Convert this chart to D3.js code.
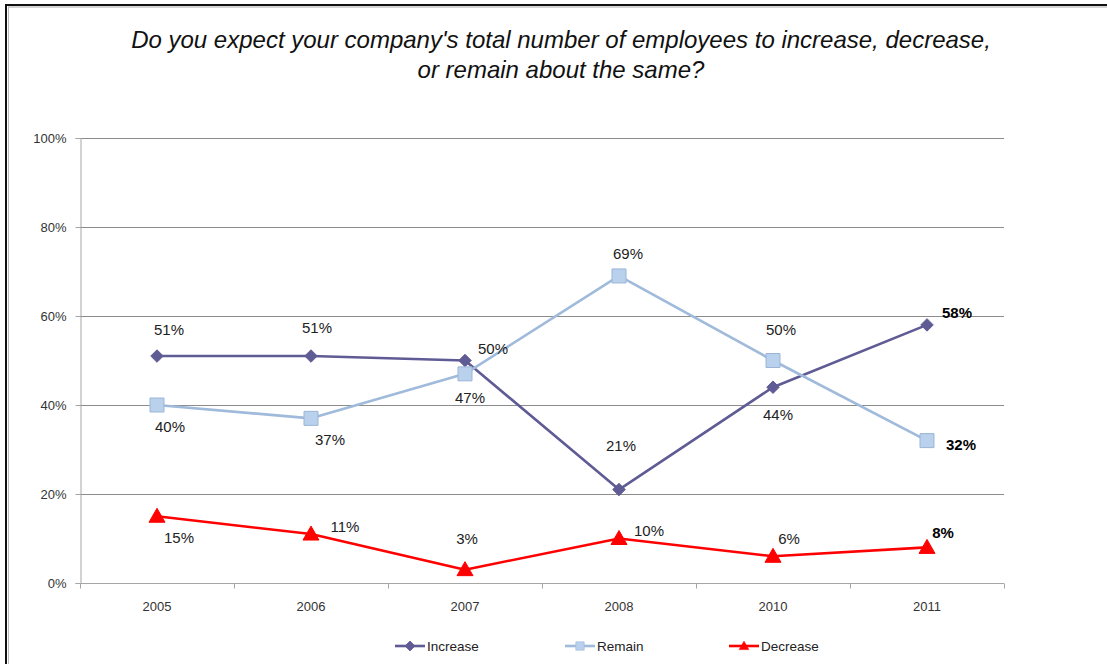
<!DOCTYPE html>
<html>
<head>
<meta charset="utf-8">
<script src="https://cdn.jsdelivr.net/npm/d3@7"></script>
<style>
  html, body { margin: 0; padding: 0; background: #fff; }
  svg { display: block; font-family: "Liberation Sans", Arial, sans-serif; }
</style>
</head>
<body>
<svg id="chart" width="1107" height="664"></svg>
<script>
// Survey years and the share of answers for each option
const years = ["2005", "2006", "2007", "2008", "2010", "2011"];
const increaseValues = [51, 51, 50, 21, 44, 58];
const remainValues = [40, 37, 47, 69, 50, 32];
const decreaseValues = [15, 11, 3, 10, 6, 8];
const yTicks = [0, 20, 40, 60, 80, 100];

const titleLines = [
  "Do you expect your company's total number of employees to increase, decrease,",
  "or remain about the same?"
];

// Label placement relative to each point (dx, dy in px), and which labels are bold
const increaseLabelOffsets = [[12, -26], [6, -28], [28, -12], [2, -44], [5, 28], [30, -12]];
const remainLabelOffsets = [[13, 22], [19, 22], [5, 24], [9, -22], [8, -31], [34, 4]];
const decreaseLabelOffsets = [[22, 22], [34, -7], [2, -31], [30, -8], [16, -17], [16, -14]];

const series = [
  { name: "Increase", values: increaseValues, offsets: increaseLabelOffsets,
    line: "#5f5b94", fill: "#5f5b94", stroke: "#5f5b94", marker: "diamond" },
  { name: "Remain", values: remainValues, offsets: remainLabelOffsets,
    line: "#9fbadb", fill: "#b9d1ec", stroke: "#9ab5d6", marker: "square" },
  { name: "Decrease", values: decreaseValues, offsets: decreaseLabelOffsets,
    line: "#ff0000", fill: "#ff0000", stroke: "#ff0000", marker: "triangle" }
];

const svg = d3.select("#chart");
const W = 1107, H = 664;
const plot = { left: 80, right: 1004, top: 138, bottom: 583 };

// Frame around the figure
svg.append("rect").attr("x", 0).attr("y", 0).attr("width", W).attr("height", H).attr("fill", "#fff");
svg.append("line").attr("x1", 6).attr("x2", W).attr("y1", 5).attr("y2", 5)
  .attr("stroke", "#111").attr("stroke-width", 2);
svg.append("line").attr("x1", 8).attr("x2", W).attr("y1", 7).attr("y2", 7)
  .attr("stroke", "#aaa").attr("stroke-width", 1);
svg.append("line").attr("x1", 6).attr("x2", 6).attr("y1", 4).attr("y2", H)
  .attr("stroke", "#111").attr("stroke-width", 2);
svg.append("line").attr("x1", 8.5).attr("x2", 8.5).attr("y1", 7).attr("y2", H)
  .attr("stroke", "#bbb").attr("stroke-width", 1);

// Title
svg.append("g").selectAll("text").data(titleLines).join("text")
  .attr("x", 561).attr("y", (d, i) => 48 + i * 30)
  .attr("text-anchor", "middle")
  .attr("font-size", 24).attr("font-style", "italic")
  .attr("fill", "#111")
  .text(d => d);

// Scales
const x = d3.scaleBand().domain(years).range([plot.left, plot.right]);
const y = d3.scaleLinear().domain([0, 100]).range([plot.bottom, plot.top]);
const cx = d => x(d) + x.bandwidth() / 2;

// Horizontal gridlines
svg.append("g").selectAll("line").data(yTicks.filter(t => t > 0)).join("line")
  .attr("x1", plot.left).attr("x2", plot.right)
  .attr("y1", d => Math.round(y(d)) + 0.5).attr("y2", d => Math.round(y(d)) + 0.5)
  .attr("stroke", "#8c8c8c").attr("stroke-width", 1);

// Y axis
const yAxis = svg.append("g")
  .attr("transform", `translate(${plot.left + 0.5},0)`)
  .call(d3.axisLeft(y).tickValues(yTicks).tickFormat(d => d + "%").tickSize(5).tickPadding(9));
yAxis.select(".domain").attr("stroke", "#a6a6a6");
yAxis.selectAll(".tick line").attr("stroke", "#a6a6a6");
yAxis.selectAll("text").attr("font-size", 13).attr("fill", "#333")
  .attr("font-family", "'Liberation Sans', Arial, sans-serif");

// X axis with ticks at category boundaries
const xAxisG = svg.append("g").attr("transform", `translate(0,${plot.bottom + 0.5})`);
xAxisG.append("line").attr("x1", plot.left).attr("x2", plot.right)
  .attr("stroke", "#a6a6a6");
const boundaries = years.map(d => x(d)).concat([x(years[years.length - 1]) + x.bandwidth()]);
xAxisG.selectAll("line.tk").data(boundaries).join("line").attr("class", "tk")
  .attr("x1", d => Math.round(d) + 0.5).attr("x2", d => Math.round(d) + 0.5)
  .attr("y1", 0).attr("y2", 5).attr("stroke", "#a6a6a6");
xAxisG.selectAll("text").data(years).join("text")
  .attr("x", d => cx(d)).attr("y", 27)
  .attr("text-anchor", "middle").attr("font-size", 13).attr("fill", "#333")
  .text(d => d);

// Marker shapes
function markerPath(type) {
  if (type === "diamond") return d3.symbol().type(d3.symbolDiamond2).size(100)();
  if (type === "square") return "M-7,-7H7V7H-7Z";
  return "M0,-8L8,6H-8Z";
}

const line = d3.line().x((d, i) => cx(years[i])).y(d => y(d));

series.forEach(s => {
  const g = svg.append("g");
  g.append("path").datum(s.values)
    .attr("d", line).attr("fill", "none")
    .attr("stroke", s.line).attr("stroke-width", 2.6).attr("stroke-linejoin", "round");
  g.selectAll("path.mk").data(s.values).join("path").attr("class", "mk")
    .attr("transform", (d, i) => `translate(${cx(years[i])},${y(d)})`)
    .attr("d", markerPath(s.marker))
    .attr("fill", s.fill).attr("stroke", s.stroke).attr("stroke-width", 1);
});

// Value labels
series.forEach(s => {
  svg.append("g").selectAll("text").data(s.values).join("text")
    .attr("x", (d, i) => cx(years[i]) + s.offsets[i][0])
    .attr("y", (d, i) => y(d) + s.offsets[i][1] + 5)
    .attr("text-anchor", "middle")
    .attr("font-size", 15)
    .attr("font-weight", (d, i) => i === years.length - 1 ? "bold" : "normal")
    .attr("fill", (d, i) => i === years.length - 1 ? "#000" : "#222")
    .text(d => d + "%");
});

// Legend
const legendX = [395, 565, 729];
const legendY = 646;
series.forEach((s, i) => {
  const g = svg.append("g").attr("transform", `translate(${legendX[i]},${legendY})`);
  g.append("line").attr("x1", 0).attr("x2", 30).attr("y1", 0).attr("y2", 0)
    .attr("stroke", s.line).attr("stroke-width", 2.6);
  const scale = s.marker === "diamond" ? 0.8 : 0.6;
  g.append("path").attr("transform", `translate(15,0) scale(${scale})`)
    .attr("d", markerPath(s.marker))
    .attr("fill", s.fill).attr("stroke", s.stroke).attr("stroke-width", 1);
  g.append("text").attr("x", 32).attr("y", 5)
    .attr("font-size", 13.5).attr("fill", "#222").text(s.name);
});
</script>
</body>
</html>
